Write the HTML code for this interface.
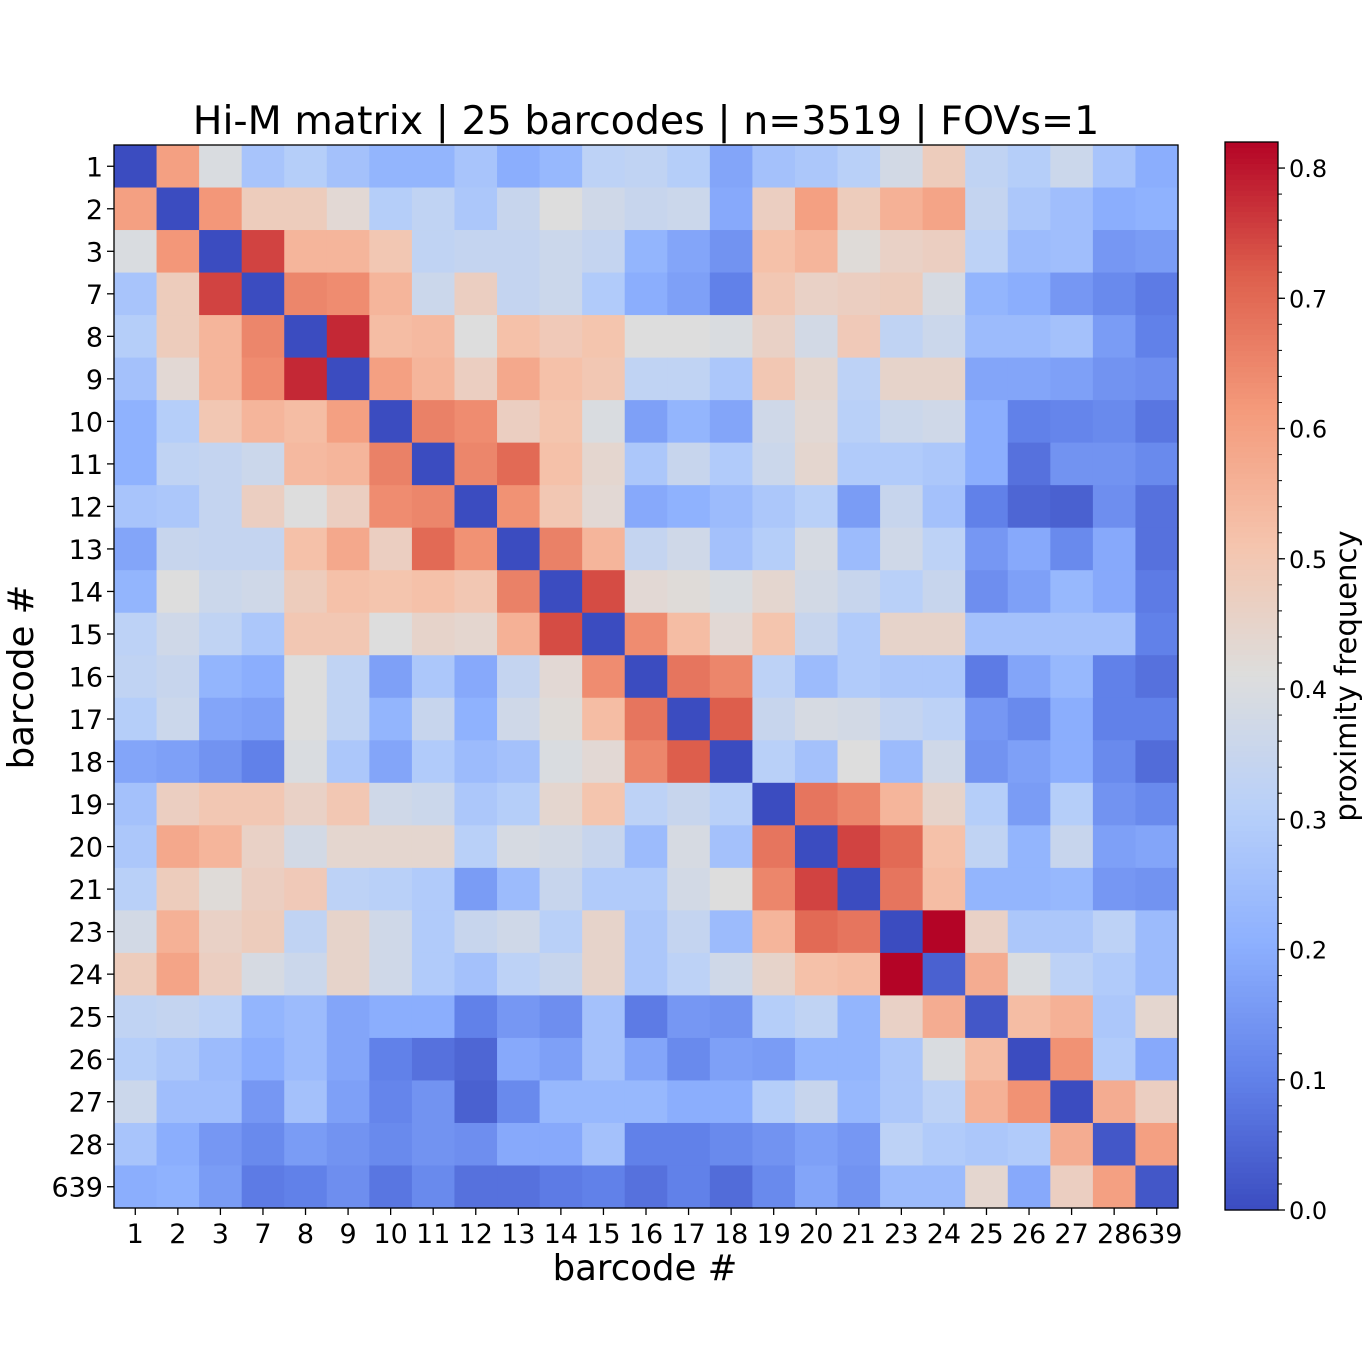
<!DOCTYPE html>
<html><head><meta charset="utf-8"><style>
body{margin:0;background:#fff;}
svg{display:block;font-family:"DejaVu Sans","Liberation Sans",sans-serif;}
</style></head><body>
<svg id="chart" width="1370" height="1370" viewBox="0 0 1370 1370">
<rect width="1370" height="1370" fill="#fff"/>
<text x="646" y="134" font-size="39.5" text-anchor="middle">Hi-M matrix | 25 barcodes | n=3519 | FOVs=1</text>
<g id="cells"></g>
<g id="axes"></g>
<g id="cbar"></g>
<text x="645" y="1280" font-size="35.5" text-anchor="middle">barcode #</text>
<text transform="translate(33,677) rotate(-90)" font-size="35.5" text-anchor="middle">barcode #</text>
<text transform="translate(1356,676) rotate(-90)" font-size="29" text-anchor="middle">proximity frequency</text>
</svg>
<script>
const labels = ["1","2","3","7","8","9","10","11","12","13","14","15","16","17","18","19","20","21","23","24","25","26","27","28","639"];
const matrix = [
[0,0.6,0.4,0.27,0.3,0.26,0.22,0.22,0.27,0.2,0.23,0.32,0.33,0.3,0.18,0.26,0.28,0.31,0.38,0.48,0.33,0.3,0.36,0.27,0.2],
[0.6,0,0.62,0.48,0.48,0.43,0.3,0.33,0.28,0.35,0.41,0.37,0.35,0.36,0.19,0.47,0.6,0.48,0.56,0.59,0.34,0.28,0.25,0.2,0.21],
[0.4,0.62,0,0.75,0.55,0.55,0.5,0.33,0.34,0.34,0.36,0.34,0.22,0.18,0.14,0.52,0.55,0.42,0.46,0.47,0.32,0.24,0.25,0.15,0.16],
[0.27,0.48,0.75,0,0.65,0.64,0.55,0.36,0.47,0.34,0.36,0.29,0.2,0.17,0.1,0.5,0.46,0.47,0.48,0.39,0.22,0.2,0.15,0.12,0.09],
[0.3,0.48,0.55,0.65,0,0.78,0.53,0.54,0.41,0.52,0.49,0.51,0.41,0.41,0.4,0.46,0.38,0.49,0.33,0.36,0.24,0.24,0.26,0.16,0.1],
[0.26,0.43,0.55,0.64,0.78,0,0.6,0.55,0.47,0.58,0.52,0.5,0.33,0.33,0.28,0.5,0.44,0.32,0.45,0.45,0.18,0.18,0.17,0.14,0.13],
[0.21,0.3,0.5,0.55,0.53,0.6,0,0.66,0.64,0.47,0.51,0.4,0.17,0.22,0.18,0.37,0.43,0.31,0.36,0.37,0.2,0.1,0.11,0.12,0.08],
[0.21,0.33,0.34,0.36,0.54,0.55,0.66,0,0.65,0.7,0.52,0.44,0.28,0.35,0.29,0.36,0.44,0.29,0.29,0.28,0.2,0.07,0.14,0.14,0.12],
[0.27,0.28,0.34,0.47,0.41,0.47,0.64,0.65,0,0.63,0.5,0.43,0.19,0.21,0.24,0.28,0.31,0.16,0.35,0.26,0.1,0.05,0.04,0.13,0.07],
[0.18,0.35,0.34,0.34,0.52,0.58,0.47,0.7,0.63,0,0.66,0.55,0.34,0.37,0.26,0.3,0.39,0.24,0.37,0.32,0.15,0.19,0.12,0.19,0.07],
[0.22,0.41,0.36,0.37,0.48,0.52,0.51,0.52,0.5,0.66,0,0.74,0.43,0.42,0.4,0.44,0.38,0.35,0.31,0.35,0.13,0.17,0.23,0.19,0.09],
[0.32,0.37,0.33,0.28,0.5,0.5,0.41,0.45,0.44,0.56,0.74,0,0.64,0.53,0.43,0.51,0.35,0.29,0.45,0.45,0.26,0.26,0.26,0.26,0.1],
[0.33,0.35,0.22,0.2,0.41,0.33,0.17,0.28,0.19,0.34,0.43,0.64,0,0.68,0.65,0.32,0.24,0.29,0.28,0.28,0.09,0.18,0.23,0.1,0.07],
[0.3,0.36,0.18,0.17,0.41,0.33,0.22,0.35,0.21,0.37,0.42,0.53,0.68,0,0.72,0.35,0.39,0.38,0.34,0.32,0.15,0.12,0.2,0.1,0.1],
[0.18,0.17,0.14,0.1,0.4,0.28,0.18,0.29,0.24,0.26,0.4,0.43,0.65,0.72,0,0.31,0.26,0.41,0.24,0.37,0.14,0.17,0.2,0.12,0.06],
[0.26,0.47,0.5,0.5,0.46,0.5,0.37,0.36,0.28,0.3,0.44,0.51,0.32,0.35,0.31,0,0.68,0.65,0.55,0.45,0.3,0.16,0.3,0.14,0.12],
[0.28,0.58,0.55,0.46,0.38,0.44,0.44,0.44,0.31,0.39,0.38,0.35,0.24,0.39,0.26,0.68,0,0.75,0.7,0.52,0.33,0.22,0.35,0.17,0.18],
[0.31,0.48,0.42,0.47,0.49,0.32,0.31,0.29,0.16,0.24,0.35,0.29,0.29,0.38,0.41,0.65,0.75,0,0.68,0.53,0.22,0.22,0.23,0.15,0.14],
[0.38,0.56,0.46,0.48,0.33,0.45,0.37,0.29,0.35,0.37,0.31,0.45,0.28,0.34,0.24,0.55,0.7,0.68,0,0.82,0.46,0.28,0.28,0.32,0.24],
[0.48,0.59,0.47,0.39,0.36,0.45,0.37,0.29,0.26,0.32,0.35,0.45,0.28,0.32,0.37,0.45,0.52,0.53,0.82,0.04,0.57,0.4,0.32,0.29,0.24],
[0.33,0.34,0.32,0.22,0.24,0.18,0.2,0.2,0.1,0.15,0.13,0.26,0.09,0.15,0.14,0.3,0.33,0.22,0.46,0.57,0.02,0.53,0.56,0.28,0.44],
[0.3,0.28,0.24,0.2,0.24,0.18,0.1,0.07,0.05,0.19,0.17,0.26,0.18,0.12,0.17,0.16,0.22,0.22,0.28,0.4,0.53,0,0.63,0.29,0.19],
[0.36,0.25,0.25,0.15,0.26,0.17,0.11,0.14,0.04,0.12,0.23,0.23,0.23,0.2,0.2,0.3,0.35,0.23,0.28,0.32,0.56,0.63,0,0.57,0.47],
[0.27,0.2,0.15,0.12,0.16,0.14,0.12,0.14,0.13,0.19,0.19,0.26,0.1,0.1,0.12,0.14,0.17,0.15,0.32,0.29,0.28,0.29,0.57,0.02,0.6],
[0.2,0.21,0.16,0.09,0.1,0.13,0.08,0.12,0.07,0.07,0.09,0.1,0.07,0.1,0.06,0.12,0.18,0.14,0.24,0.24,0.44,0.19,0.47,0.6,0.02]
];
const cbarTicks = ["0.0","0.1","0.2","0.3","0.4","0.5","0.6","0.7","0.8"];
const vmin = 0, vmax = 0.82;

const NS="http://www.w3.org/2000/svg";
const X0=114, Y0=145, W=1064, H=1063, n=labels.length, cw=W/n, ch=H/n;
const CBX=1225, CBW=53, CBT=142, CBB=1210;
const cm=[[0,59,76,192],[0.125,98,130,234],[0.25,141,176,254],[0.375,184,208,249],[0.5,221,221,221],[0.625,245,196,173],[0.75,244,154,123],[0.875,222,96,77],[1,180,4,38]];
function coolwarm(t){t=Math.max(0,Math.min(1,t));for(let i=1;i<cm.length;i++){if(t<=cm[i][0]){const a=cm[i-1],b=cm[i],f=(t-a[0])/(b[0]-a[0]);return `rgb(${[1,2,3].map(k=>Math.round(a[k]+(b[k]-a[k])*f)).join(',')})`;}}return 'rgb(180,4,38)';}
function xs(i){return X0+i*cw;}
function ys(i){return Y0+i*ch;}
function cy(v){return CBB-(v-vmin)/(vmax-vmin)*(CBB-CBT);}
function mk(tag,attrs,parent){const e=document.createElementNS(NS,tag);for(const k in attrs)e.setAttribute(k,attrs[k]);parent.appendChild(e);return e;}
const cells=document.getElementById('cells'), axes=document.getElementById('axes'), cbar=document.getElementById('cbar');
for(let r=0;r<n;r++)for(let c=0;c<n;c++){
  const e=mk('rect',{x:xs(c),y:ys(r),width:cw+0.6,height:ch+0.6,fill:coolwarm((matrix[r][c]-vmin)/(vmax-vmin))},cells);
  
  
}
mk('rect',{x:X0,y:Y0,width:W,height:H,fill:'none',stroke:'#000','stroke-width':1.3},axes);
for(let i=0;i<n;i++){
  const cx=xs(i)+cw/2, yy=ys(i)+ch/2;
  mk('line',{x1:cx,x2:cx,y1:Y0+H,y2:Y0+H+7,stroke:'#000','stroke-width':1.3},axes);
  const tx=mk('text',{x:cx,y:Y0+H+35,'font-size':27,'text-anchor':'middle'},axes);tx.textContent=labels[i];
  
  
  mk('line',{x1:X0-7,x2:X0,y1:yy,y2:yy,stroke:'#000','stroke-width':1.3},axes);
  const ty=mk('text',{x:X0-11,y:yy+10,'font-size':27,'text-anchor':'end'},axes);ty.textContent=labels[i];
  
  
}
const steps=200;
for(let s=0;s<steps;s++){
  const v0=vmin+(vmax-vmin)*s/steps, v1=vmin+(vmax-vmin)*(s+1)/steps;
  mk('rect',{x:CBX,y:cy(v1),width:CBW,height:cy(v0)-cy(v1)+0.6,fill:coolwarm((v0+v1)/2/(vmax-vmin))},cbar);
}
mk('rect',{x:CBX,y:CBT,width:CBW,height:CBB-CBT,fill:'none',stroke:'#000','stroke-width':1.3},cbar);
for(let k=0;k<=40;k++){const v=k*0.02;if(v>vmax)break;const y=cy(v);mk('line',{x1:CBX+CBW,x2:CBX+CBW+4,y1:y,y2:y,stroke:'#000','stroke-width':1},cbar);}
cbarTicks.forEach(t=>{const v=parseFloat(t),y=cy(v);
  mk('line',{x1:CBX+CBW,x2:CBX+CBW+7,y1:y,y2:y,stroke:'#000','stroke-width':1.3},cbar);
  const e=mk('text',{x:CBX+CBW+11,y:y+9,'font-size':24},cbar);e.textContent=t;
  
  
});
</script>
</body></html>
